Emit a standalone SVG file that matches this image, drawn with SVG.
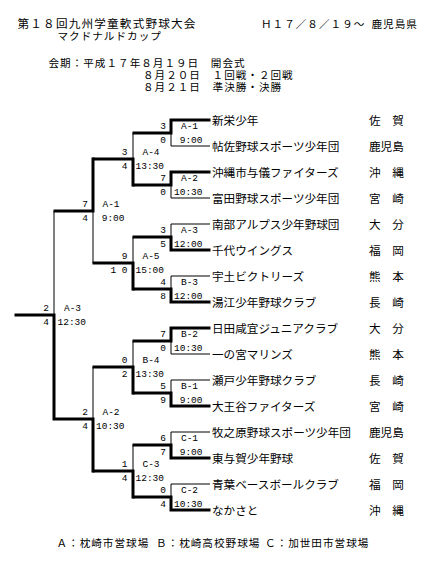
<svg xmlns="http://www.w3.org/2000/svg" width="435" height="565" viewBox="0 0 435 565">
<style>
.bg{fill:#fff}
.jp{font-family:"Noto Sans CJK JP","Noto Sans CJK SC",sans-serif;font-size:11.6px;fill:#000}
.hd{font-family:"Liberation Sans","Noto Sans CJK JP","Noto Sans CJK SC",sans-serif;font-size:10.6px;letter-spacing:1px;fill:#000}
.title{font-family:"Liberation Sans","Noto Sans CJK JP",sans-serif;font-size:11.6px;letter-spacing:1.2px;fill:#000}
.m{font-family:"Liberation Mono",monospace;font-size:9.5px;fill:#000}
.e{text-anchor:end}
.c{text-anchor:middle}
.thin{fill:none;stroke:#000;stroke-width:1}
.thick{fill:none;stroke:#000;stroke-width:3;stroke-linecap:square;stroke-linejoin:miter}
</style>
<rect class="bg" width="435" height="565"/>
<g id="header">
<text class="title" x="17.5" y="27.7">第１８回九州学童軟式野球大会</text>
<text class="hd" x="57.5" y="40">マクドナルドカップ</text>
<text class="hd" y="27.7"><tspan x="261">Ｈ１７／８／１９～</tspan><tspan x="371.5">鹿児島県</tspan></text>
<text class="hd" x="48.5" y="67">会期：平成１７年８月１９日　開会式</text>
<text class="hd" x="143" y="79">８月２０日　１回戦・２回戦</text>
<text class="hd" x="143" y="91">８月２１日　準決勝・決勝</text>
</g>
<g id="connectors">
<path class="thin" d="M210 120H171V146H210M171 133H133 M210 172H171V198H210M171 185H133 M210 224H171V250H210M171 237H133 M210 276H171V302H210M171 289H133 M210 328H171V354H210M171 341H133 M210 380H171V406H210M171 393H133 M210 432H171V458H210M171 445H133 M210 484H171V510H210M171 497H133"/>
<path class="thin" d="M133 133V185M133 159H93 M133 237V289M133 263H93 M133 341V393M133 367H93 M133 445V497M133 471H93"/>
<path class="thin" d="M93 159V263M93 211H54 M93 367V471M93 419H54 M54 211V419M54 315H15"/>
<path class="thick" d="M209 120H171V133H134 M209 172H171V185H134 M209 250H171V237H134 M209 302H171V289H134 M209 328H171V341H134 M209 406H171V393H134 M209 458H171V445H134 M209 510H171V497H134"/>
<path class="thick" d="M133 185V159H94 M133 289V263H94 M133 393V367H94 M133 497V471H94"/>
<path class="thick" d="M93 159V211H55 M93 471V419H55 M54 419V315H16"/>
</g>
<g id="teams">
<g id="t1"><text class="jp" x="212" y="124.5">新栄少年</text><text class="jp" x="369" y="124.5">佐　賀</text></g>
<g id="t2"><text class="jp" x="212" y="150.5">帖佐野球スポーツ少年団</text><text class="jp" x="369" y="150.5">鹿児島</text></g>
<g id="t3"><text class="jp" x="212" y="176.5">沖縄市与儀ファイターズ</text><text class="jp" x="369" y="176.5">沖　縄</text></g>
<g id="t4"><text class="jp" x="212" y="202.5">富田野球スポーツ少年団</text><text class="jp" x="369" y="202.5">宮　崎</text></g>
<g id="t5"><text class="jp" x="212" y="228.5">南部アルプス少年野球団</text><text class="jp" x="369" y="228.5">大　分</text></g>
<g id="t6"><text class="jp" x="212" y="254.5">千代ウイングス</text><text class="jp" x="369" y="254.5">福　岡</text></g>
<g id="t7"><text class="jp" x="212" y="280.5">宇土ビクトリーズ</text><text class="jp" x="369" y="280.5">熊　本</text></g>
<g id="t8"><text class="jp" x="212" y="306.5">湯江少年野球クラブ</text><text class="jp" x="369" y="306.5">長　崎</text></g>
<g id="t9"><text class="jp" x="212" y="332.5">日田咸宜ジュニアクラブ</text><text class="jp" x="369" y="332.5">大　分</text></g>
<g id="t10"><text class="jp" x="212" y="358.5">一の宮マリンズ</text><text class="jp" x="369" y="358.5">熊　本</text></g>
<g id="t11"><text class="jp" x="212" y="384.5">瀬戸少年野球クラブ</text><text class="jp" x="369" y="384.5">長　崎</text></g>
<g id="t12"><text class="jp" x="212" y="410.5">大王谷ファイターズ</text><text class="jp" x="369" y="410.5">宮　崎</text></g>
<g id="t13"><text class="jp" x="212" y="436.5">牧之原野球スポーツ少年団</text><text class="jp" x="369" y="436.5">鹿児島</text></g>
<g id="t14"><text class="jp" x="212" y="462.5">東与賀少年野球</text><text class="jp" x="369" y="462.5">佐　賀</text></g>
<g id="t15"><text class="jp" x="212" y="488.5">青葉ベースボールクラブ</text><text class="jp" x="369" y="488.5">福　岡</text></g>
<g id="t16"><text class="jp" x="212" y="514.5">なかさと</text><text class="jp" x="369" y="514.5">沖　縄</text></g>
</g>
<g id="matches">
<g id="mA1r1"><text class="m e" x="166" y="129">3</text><text class="m e" x="166" y="142.5">0</text><text class="m c" x="189.5" y="129">A-1</text><text class="m e" x="202.5" y="142.5">9:00</text></g>
<g id="mA2r1"><text class="m e" x="166" y="181">7</text><text class="m e" x="166" y="194.5">0</text><text class="m c" x="189.5" y="181">A-2</text><text class="m e" x="202.5" y="194.5">10:30</text></g>
<g id="mA3r1"><text class="m e" x="166" y="233">3</text><text class="m e" x="166" y="246.5">5</text><text class="m c" x="189.5" y="233">A-3</text><text class="m e" x="202.5" y="246.5">12:00</text></g>
<g id="mB3"><text class="m e" x="166" y="285">4</text><text class="m e" x="166" y="298.5">8</text><text class="m c" x="189.5" y="285">B-3</text><text class="m e" x="202.5" y="298.5">12:00</text></g>
<g id="mB2"><text class="m e" x="166" y="337">7</text><text class="m e" x="166" y="350.5">0</text><text class="m c" x="189.5" y="337">B-2</text><text class="m e" x="202.5" y="350.5">10:30</text></g>
<g id="mB1"><text class="m e" x="166" y="389">5</text><text class="m e" x="166" y="402.5">9</text><text class="m c" x="189.5" y="389">B-1</text><text class="m e" x="202.5" y="402.5">9:00</text></g>
<g id="mC1"><text class="m e" x="166" y="441">6</text><text class="m e" x="166" y="454.5">7</text><text class="m c" x="189.5" y="441">C-1</text><text class="m e" x="202.5" y="454.5">9:00</text></g>
<g id="mC2"><text class="m e" x="166" y="493">0</text><text class="m e" x="166" y="506.5">4</text><text class="m c" x="189.5" y="493">C-2</text><text class="m e" x="202.5" y="506.5">10:30</text></g>
<g id="mA4"><text class="m e" x="127.5" y="155">3</text><text class="m e" x="127.5" y="168.5">4</text><text class="m c" x="151" y="155">A-4</text><text class="m e" x="164" y="168.5">13:30</text></g>
<g id="mA5"><text class="m e" x="127.5" y="259">9</text><text class="m e" x="127.5" y="272.5">1 0</text><text class="m c" x="151" y="259">A-5</text><text class="m e" x="164" y="272.5">15:00</text></g>
<g id="mB4"><text class="m e" x="127.5" y="363">0</text><text class="m e" x="127.5" y="376.5">2</text><text class="m c" x="151" y="363">B-4</text><text class="m e" x="164" y="376.5">13:30</text></g>
<g id="mC3"><text class="m e" x="127.5" y="467">1</text><text class="m e" x="127.5" y="480.5">4</text><text class="m c" x="151" y="467">C-3</text><text class="m e" x="164" y="480.5">12:30</text></g>
<g id="mA1r3"><text class="m e" x="88" y="207">7</text><text class="m e" x="88" y="220.5">4</text><text class="m c" x="111" y="207">A-1</text><text class="m e" x="124.5" y="220.5">9:00</text></g>
<g id="mA2r3"><text class="m e" x="88" y="415">2</text><text class="m e" x="88" y="428.5">4</text><text class="m c" x="111" y="415">A-2</text><text class="m e" x="124.5" y="428.5">10:30</text></g>
<g id="mA3final"><text class="m e" x="49" y="311">2</text><text class="m e" x="49" y="324.5">4</text><text class="m c" x="72.5" y="311">A-3</text><text class="m e" x="86" y="324.5">12:30</text></g>
</g>
<g id="legend">
<text class="hd" y="547"><tspan x="56.5">Ａ：枕崎市営球場</tspan><tspan x="156">Ｂ：枕崎高校野球場</tspan><tspan x="265">Ｃ：加世田市営球場</tspan></text>
</g>
</svg>
